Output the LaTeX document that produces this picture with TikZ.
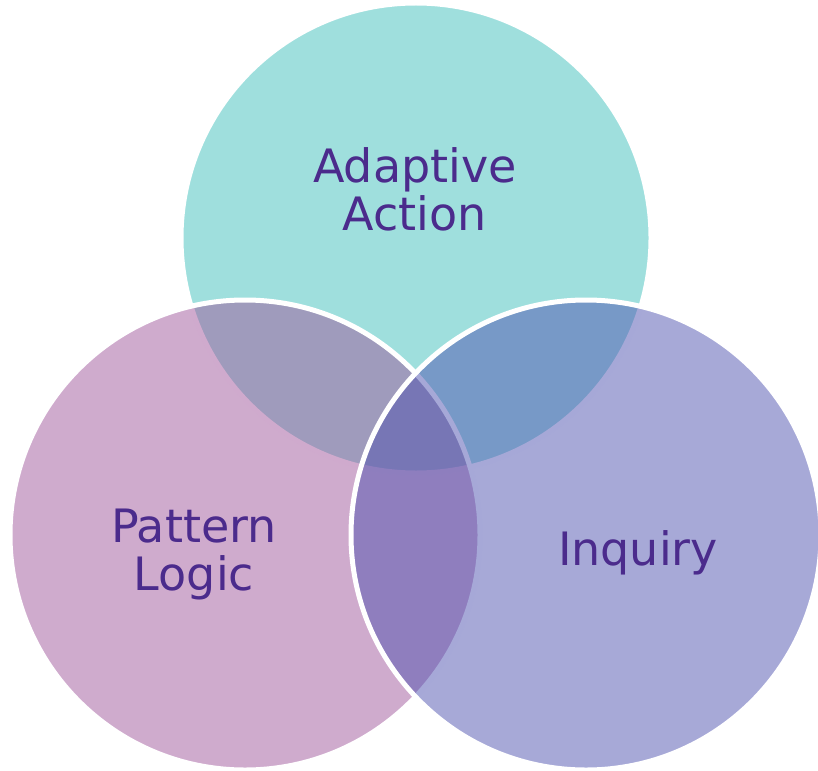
\documentclass[tikz,border=0pt]{standalone}
\usepackage{fontspec}
\setmainfont{DejaVu Sans}
\usetikzlibrary{positioning}
\definecolor{topfill}{RGB}{64,192,188}
\definecolor{leftfill}{RGB}{160,87,156}
\definecolor{rightfill}{RGB}{79,83,176}
\definecolor{labeltext}{RGB}{75,43,140}
\tikzset{
  ring/.style={
    circle,
    minimum size=470pt,
    inner sep=0pt,
    fill=#1,
    fill opacity=0.5,
    draw=white,
    line width=5pt
  },
  ring/.default=topfill}
\tikzset{caption/.style={
    text=labeltext,
    align=center,
    inner sep=0pt,
    font=\fontsize{46}{48}\selectfont
  }}

\begin{document}
\begin{tikzpicture}
  [x=1pt,y=-1pt]

  \useasboundingbox (0,0) rectangle (818,770);

  \node (Adaptive) [ring=topfill]   at (416,238) {};
  \node (Pattern)  [ring=leftfill]  at (245,535) {};
  \node (Inquiry)  [ring=rightfill] at (586,535) {};

  \node (AdaptiveText) [caption,anchor=base] at (415,230) {Adaptive\\Action};
  \node (PatternText)  [caption,anchor=base] at (194,590) {Pattern\\Logic};
  \node (InquiryText)  [caption,anchor=base] at (638,565) {Inquiry};
\end{tikzpicture}
\end{document}
